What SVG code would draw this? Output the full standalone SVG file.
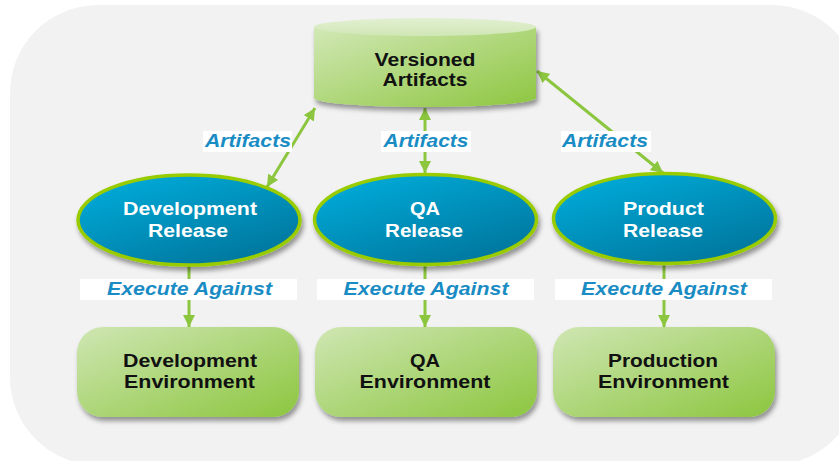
<svg xmlns="http://www.w3.org/2000/svg" width="839" height="461" viewBox="0 0 839 461">
<defs>
<style>
.nt{font-family:"Liberation Sans",Arial,sans-serif;font-weight:bold;font-size:18px;text-anchor:middle}
.dark{fill:#111}
.light{fill:#fff}
.lbl{font-family:"Liberation Sans",Arial,sans-serif;font-weight:bold;font-style:italic;font-size:18px;fill:#1a8cc4;text-anchor:middle}
.lblbox{fill:#fff}
.conn{stroke:#8cc63f;stroke-width:3;fill:none}
.ell{fill:url(#blueG);stroke:#99cc00;stroke-width:3.5}
.env{fill:url(#greenG)}
</style>
<linearGradient id="greenG" x1="0" y1="0" x2="1" y2="1">
<stop offset="0" stop-color="#cfe6b3"/>
<stop offset="1" stop-color="#8cc63f"/>
</linearGradient>
<linearGradient id="cylG" x1="0" y1="0" x2="1" y2="1">
<stop offset="0" stop-color="#d2e8b6"/>
<stop offset="1" stop-color="#8dc640"/>
</linearGradient>
<linearGradient id="cylTop" x1="0" y1="0" x2="0" y2="1">
<stop offset="0" stop-color="#e2f0d2"/>
<stop offset="1" stop-color="#d0e7b5"/>
</linearGradient>
<linearGradient id="blueG" x1="0" y1="0" x2="0.7" y2="1">
<stop offset="0" stop-color="#00b0df"/>
<stop offset="1" stop-color="#00779e"/>
</linearGradient>
<filter id="sh" x="-10%" y="-10%" width="125%" height="135%">
<feDropShadow dx="2" dy="4" stdDeviation="2.5" flood-color="#000" flood-opacity="0.4"/>
</filter>
<marker id="ah" viewBox="0 0 10 10" refX="10" refY="5" markerWidth="4" markerHeight="4" orient="auto-start-reverse" markerUnits="strokeWidth">
<path d="M0,0 L10,5 L0,10 z" fill="#8cc63f"/>
</marker>
</defs>

<rect x="10" y="5" width="850" height="460" rx="88" ry="88" fill="#f2f2f2"/>

<g id="connectors">
<line class="conn" x1="267" y1="187" x2="315" y2="108" marker-start="url(#ah)" marker-end="url(#ah)"/>
<line class="conn" x1="425" y1="108" x2="425" y2="173" marker-start="url(#ah)" marker-end="url(#ah)"/>
<line class="conn" x1="537" y1="71" x2="663" y2="173" marker-start="url(#ah)" marker-end="url(#ah)"/>
<line class="conn" x1="189" y1="265" x2="189" y2="327" marker-end="url(#ah)"/>
<line class="conn" x1="425" y1="265" x2="425" y2="327" marker-end="url(#ah)"/>
<line class="conn" x1="664" y1="265" x2="664" y2="327" marker-end="url(#ah)"/>
<g id="artifacts-labels">
<rect class="lblbox" x="203" y="131" width="89" height="21"/>
<text class="lbl" x="248" y="147" textLength="86" lengthAdjust="spacingAndGlyphs">Artifacts</text>
<rect class="lblbox" x="381" y="131" width="90" height="21"/>
<text class="lbl" x="426" y="147" textLength="85" lengthAdjust="spacingAndGlyphs">Artifacts</text>
<rect class="lblbox" x="561" y="131" width="90" height="21"/>
<text class="lbl" x="605" y="147" textLength="86" lengthAdjust="spacingAndGlyphs">Artifacts</text>
</g>
<g id="execute-labels">
<rect class="lblbox" x="80" y="279" width="217" height="21"/>
<text class="lbl" x="189.5" y="295" textLength="165" lengthAdjust="spacingAndGlyphs">Execute Against</text>
<rect class="lblbox" x="317" y="279" width="217" height="21"/>
<text class="lbl" x="426" y="295" textLength="165" lengthAdjust="spacingAndGlyphs">Execute Against</text>
<rect class="lblbox" x="555" y="279" width="217" height="21"/>
<text class="lbl" x="664" y="295" textLength="166" lengthAdjust="spacingAndGlyphs">Execute Against</text>
</g>
</g>

<g id="versioned-artifacts">
<path d="M314,27 L314,98 A111,9 0 0 0 536,98 L536,27 Z" fill="url(#cylG)" filter="url(#sh)"/>
<ellipse cx="425" cy="27" rx="111" ry="9" fill="url(#cylTop)"/>
<text class="nt dark" x="425" y="66" textLength="101" lengthAdjust="spacingAndGlyphs">Versioned</text>
<text class="nt dark" x="425" y="86" textLength="85" lengthAdjust="spacingAndGlyphs">Artifacts</text>
</g>

<g id="dev-release">
<ellipse class="ell" cx="189" cy="220" rx="111" ry="45" filter="url(#sh)"/>
<text class="nt light" x="190" y="215" textLength="134" lengthAdjust="spacingAndGlyphs">Development</text>
<text class="nt light" x="188" y="237" textLength="80" lengthAdjust="spacingAndGlyphs">Release</text>
</g>
<g id="qa-release">
<ellipse class="ell" cx="425.5" cy="219.5" rx="111" ry="45" filter="url(#sh)"/>
<text class="nt light" x="425" y="215" textLength="30" lengthAdjust="spacingAndGlyphs">QA</text>
<text class="nt light" x="424" y="237" textLength="78" lengthAdjust="spacingAndGlyphs">Release</text>
</g>
<g id="product-release">
<ellipse class="ell" cx="664.5" cy="218.5" rx="111" ry="45" filter="url(#sh)"/>
<text class="nt light" x="663.5" y="215" textLength="81" lengthAdjust="spacingAndGlyphs">Product</text>
<text class="nt light" x="663" y="237" textLength="80" lengthAdjust="spacingAndGlyphs">Release</text>
</g>

<g id="dev-env">
<rect class="env" x="77" y="327" width="222" height="90" rx="26" filter="url(#sh)"/>
<text class="nt dark" x="190" y="367" textLength="134" lengthAdjust="spacingAndGlyphs">Development</text>
<text class="nt dark" x="189.5" y="388" textLength="131" lengthAdjust="spacingAndGlyphs">Environment</text>
</g>
<g id="qa-env">
<rect class="env" x="315" y="327" width="222" height="90" rx="26" filter="url(#sh)"/>
<text class="nt dark" x="425" y="367" textLength="30" lengthAdjust="spacingAndGlyphs">QA</text>
<text class="nt dark" x="425" y="388" textLength="131" lengthAdjust="spacingAndGlyphs">Environment</text>
</g>
<g id="prod-env">
<rect class="env" x="553" y="327" width="222" height="90" rx="26" filter="url(#sh)"/>
<text class="nt dark" x="663" y="367" textLength="110" lengthAdjust="spacingAndGlyphs">Production</text>
<text class="nt dark" x="663.5" y="388" textLength="131" lengthAdjust="spacingAndGlyphs">Environment</text>
</g>
</svg>
